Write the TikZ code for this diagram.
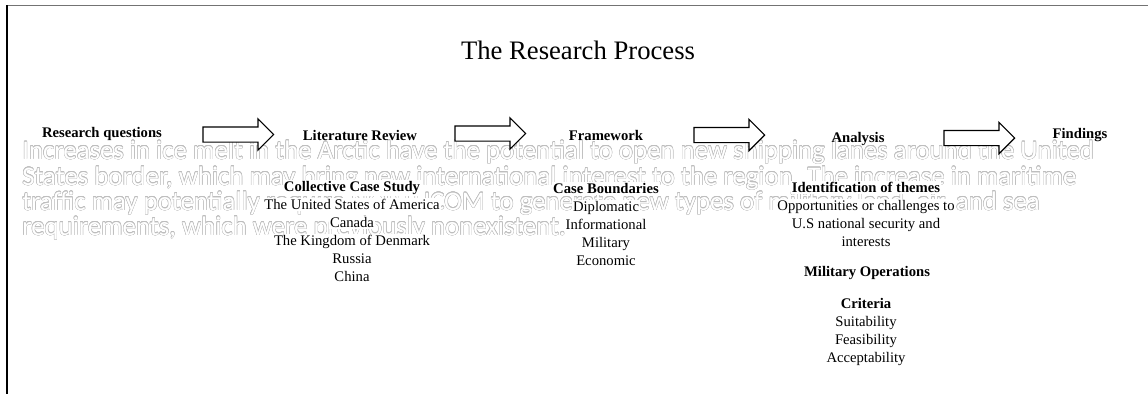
\documentclass[tikz,border=0pt]{standalone}
\usepackage{fontspec}
\setmainfont{Liberation Serif}
\newfontfamily\wmfont{Carlito}
\usepackage{xcolor}
\usepackage{contour}
\usepackage{tikz}
\usetikzlibrary{shapes.arrows}
\contourlength{0.28pt}
\contournumber{16}
\definecolor{wmgray}{RGB}{190,190,190}
\setlength{\fboxsep}{1pt}
\tikzset{stage/.style={font=\fontsize{11}{13.5}\selectfont\bfseries, inner sep=1pt},
  body/.style={font=\fontsize{11}{13.5}\selectfont, align=center, inner sep=0pt},
  blockarrow/.style={draw, line width=0.9pt, fill=white, single arrow, minimum height=53pt,
    inner xsep=0pt, inner ysep=5.25pt, single arrow head extend=6pt, anchor=center},
  wmline/.style={font=\wmfont\fontsize{20.1}{20}\selectfont, anchor=base west, inner sep=0pt}}
\newcommand{\wm}[1]{\contour{wmgray}{\textcolor{white}{#1}}}
\newcommand{\wb}[1]{\colorbox{white}{#1}}

\begin{document}
\begin{tikzpicture}[x=0.75pt,y=-0.75pt]
\useasboundingbox (0,0) rectangle (1148,394);
\draw[black!55] (7,5)--(1148,5);
\draw[line width=1.2pt] (7,5)--(7,394);

\node[font=\fontsize{20}{24}\selectfont] (title) at (578,50) {The Research Process};

% outlined background text
\node[wmline] (wm1) at (22,159) {\wm{Increases in ice melt in the Arctic have the potential to open new shipping lanes around the United}};
\node[wmline] (wm2) at (22,185) {\wm{States border, which may bring new international interest to the region. The increase in maritime}};
\node[wmline] (wm3) at (22,210) {\wm{traffic may potentially require NORTHCOM to generate new types of military land, air, and sea}};
\node[wmline] (wm4) at (22,235) {\wm{requirements, which were previously nonexistent.}};

\node[stage] (rq) at (102,134) {Research questions};
\node[stage] (lit) at (360,135) {Literature Review};
\node[stage] (fw) at (606,135) {Framework};
\node[stage] (ana) at (858,139) {Analysis};
\node[stage] (find) at (1080,135) {Findings};

\node[blockarrow] (arr1) at (234.5,134.5) {};
\node[blockarrow] (arr2) at (486.5,133.5) {};
\node[blockarrow] (arr3) at (725.5,135) {};
\node[blockarrow] (arr4) at (975.5,138) {};

\node[body, anchor=north] (cases) at (352,180) {\wb{\textbf{Collective Case Study}}\\\wb{The United States of America}\\\wb{Canada}\\\wb{The Kingdom of Denmark}\\\wb{Russia}\\\wb{China}};
\node[body, anchor=north] (bounds) at (606,182) {\wb{\textbf{Case Boundaries}}\\\wb{Diplomatic}\\\wb{Informational}\\\wb{Military}\\\wb{Economic}};
\node[body, anchor=north] (themes) at (866,181) {\wb{\textbf{Identification of themes}}\\\wb{Opportunities or challenges to}\\\wb{U.S national security and}\\\wb{interests}};
\node[body] (milops) at (867,273) {\wb{\textbf{Military Operations}}};
\node[body, anchor=north] (crit) at (866,297) {\wb{\textbf{Criteria}}\\\wb{Suitability}\\\wb{Feasibility}\\\wb{Acceptability}};
\end{tikzpicture}
\end{document}
